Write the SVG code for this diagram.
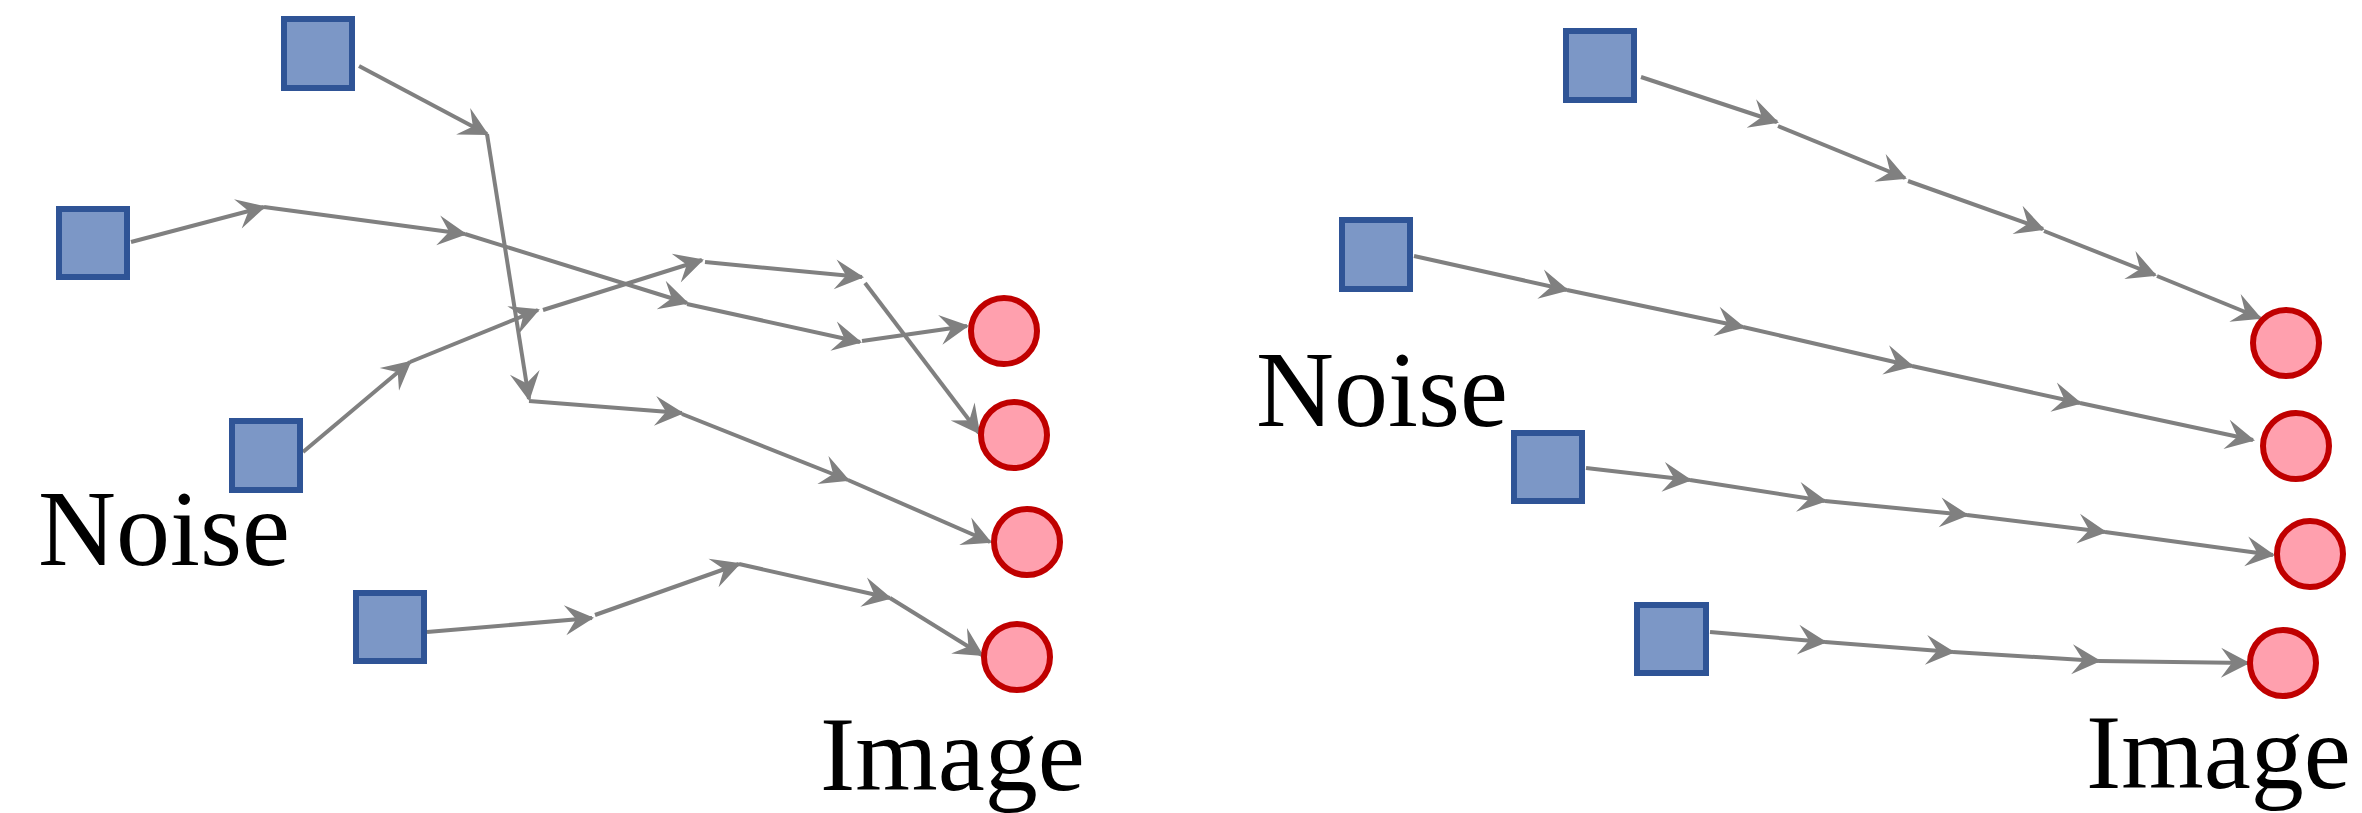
<svg xmlns="http://www.w3.org/2000/svg" width="2362" height="813" viewBox="0 0 2362 813">
<style>
.sq{fill:#7c97c6;stroke:#2f5496;stroke-width:6}
.ci{fill:#ffa0ae;stroke:#c00000;stroke-width:6}
.e{fill:none;stroke:#808080;stroke-width:4;marker-end:url(#ah)}
.t{font-family:"Liberation Serif","Times New Roman",serif;font-size:108px;fill:#000}
</style>
<defs>
<marker id="ah" markerUnits="userSpaceOnUse" markerWidth="40" markerHeight="40" refX="0" refY="0" orient="auto" overflow="visible">
<path d="M2,0 L-27,-15 L-16,0 L-27,15 Z" fill="#808080"/>
</marker>
</defs>
<rect width="2362" height="813" fill="#fff"/>
<g id="connectors">
<polyline class="e" points="359,66 487,134"/>
<polyline class="e" points="487,134 529,399"/>
<polyline class="e" points="529,401 682,413"/>
<polyline class="e" points="682,414 848,480"/>
<polyline class="e" points="848,480 990,542"/>
<polyline class="e" points="131,242 264,207"/>
<polyline class="e" points="264,207 465,234"/>
<polyline class="e" points="465,234 687,303"/>
<polyline class="e" points="687,304 860,342"/>
<polyline class="e" points="862,341 967,326"/>
<polyline class="e" points="303,452 410,362"/>
<polyline class="e" points="410,362 538,310"/>
<polyline class="e" points="543,310 702,260"/>
<polyline class="e" points="705,262 862,277"/>
<polyline class="e" points="865,283 979,433"/>
<polyline class="e" points="427,632 592,618"/>
<polyline class="e" points="595,615 739,564"/>
<polyline class="e" points="739,564 890,598"/>
<polyline class="e" points="890,598 982,655"/>
<polyline class="e" points="1641,77 1777,122"/>
<polyline class="e" points="1778,126 1905,178"/>
<polyline class="e" points="1908,181 2043,229"/>
<polyline class="e" points="2044,231 2155,275"/>
<polyline class="e" points="2157,276 2260,318"/>
<polyline class="e" points="1414,256 1567,290"/>
<polyline class="e" points="1567,290 1743,327"/>
<polyline class="e" points="1743,327 1912,366"/>
<polyline class="e" points="1912,366 2080,403"/>
<polyline class="e" points="2080,403 2253,440"/>
<polyline class="e" points="1586,468 1690,480"/>
<polyline class="e" points="1690,480 1825,501"/>
<polyline class="e" points="1825,501 1967,515"/>
<polyline class="e" points="1967,515 2105,532"/>
<polyline class="e" points="2105,532 2273,555"/>
<polyline class="e" points="1710,632 1825,642"/>
<polyline class="e" points="1825,642 1953,652"/>
<polyline class="e" points="1953,652 2099,661"/>
<polyline class="e" points="2099,661 2248,663"/>
</g>
<g id="noise-left-1"><rect class="sq" x="284" y="19" width="68" height="69"/></g>
<g id="noise-left-2"><rect class="sq" x="59" y="209" width="68" height="68"/></g>
<g id="noise-left-3"><rect class="sq" x="232" y="421" width="68" height="69"/></g>
<g id="noise-left-4"><rect class="sq" x="356" y="593" width="68" height="68"/></g>
<g id="image-left-1"><circle class="ci" cx="1004" cy="331" r="33"/></g>
<g id="image-left-2"><circle class="ci" cx="1014" cy="435" r="33"/></g>
<g id="image-left-3"><circle class="ci" cx="1027" cy="542" r="33"/></g>
<g id="image-left-4"><circle class="ci" cx="1017" cy="657" r="33"/></g>
<g id="noise-right-1"><rect class="sq" x="1566" y="31" width="68" height="69"/></g>
<g id="noise-right-2"><rect class="sq" x="1342" y="220" width="68" height="69"/></g>
<g id="noise-right-3"><rect class="sq" x="1514" y="433" width="68" height="68"/></g>
<g id="noise-right-4"><rect class="sq" x="1637" y="605" width="69" height="68"/></g>
<g id="image-right-1"><circle class="ci" cx="2286" cy="343" r="33"/></g>
<g id="image-right-2"><circle class="ci" cx="2296" cy="446" r="33"/></g>
<g id="image-right-3"><circle class="ci" cx="2310" cy="554" r="33"/></g>
<g id="image-right-4"><circle class="ci" cx="2283" cy="663" r="33"/></g>
<g id="labels">
<text class="t" x="38" y="565">Noise</text>
<text class="t" x="820" y="790" style="font-size:106px">Image</text>
<text class="t" x="1256" y="426">Noise</text>
<text class="t" x="2086" y="788" style="font-size:106px">Image</text>
</g>
</svg>
